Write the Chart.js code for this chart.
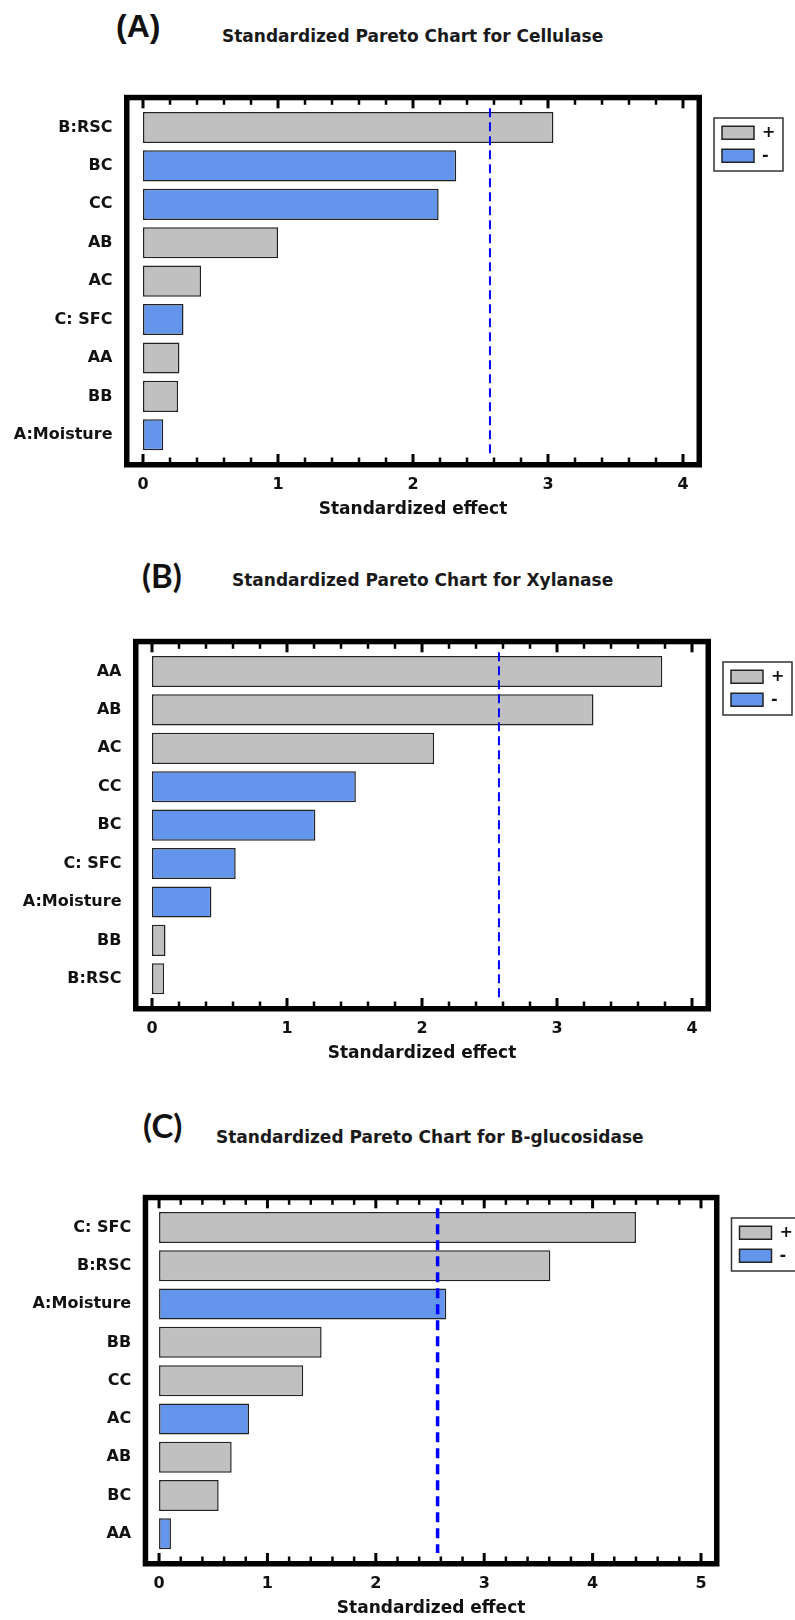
<!DOCTYPE html>
<html lang="en">
<head>
<meta charset="UTF-8">
<title>Standardized Pareto Charts</title>
<script src="https://cdn.jsdelivr.net/npm/chart.js"></script>
<style>
  body { margin: 0; width: 795px; height: 1620px; position: relative; background: #fff; overflow: hidden; }
  .tag { position: absolute; font-weight: bold; color: #111; line-height: 1; white-space: nowrap; }
  .tagA { font-family: "Liberation Sans", Arial, sans-serif; font-size: 32px; }
  .tagBC { font-family: Lato, "Liberation Sans", sans-serif; font-size: 33px; }
  .ttl { position: absolute; font-family: "DejaVu Sans", sans-serif; font-weight: bold; font-size: 17px;
         color: #1a1a1a; line-height: 20px; white-space: nowrap; }
  canvas { position: absolute; left: 0; }
</style>
</head>
<body>

<div class="tag tagA" style="left:116px; top:10px;">(A)</div>
<div class="ttl" style="left:222px; top:26px;">Standardized Pareto Chart for Cellulase</div>
<canvas id="chartA" width="795" height="440" style="top:80px;"></canvas>

<div class="tag tagBC" style="left:142px; top:559px;">(B)</div>
<div class="ttl" style="left:232px; top:570px;">Standardized Pareto Chart for Xylanase</div>
<canvas id="chartB" width="795" height="444" style="top:620px;"></canvas>

<div class="tag tagBC" style="left:143px; top:1109px;">(C)</div>
<div class="ttl" style="left:216px; top:1127px;">Standardized Pareto Chart for B-glucosidase</div>
<canvas id="chartC" width="795" height="449" style="top:1170px;"></canvas>

<script>
    // (A) Cellulase
    const labelsA = ['B:RSC', 'BC', 'CC', 'AB', 'AC', 'C: SFC', 'AA', 'BB', 'A:Moisture'];
    const effectsA = [3.04, 2.32, 2.19, 1.00, 0.43, 0.30, 0.27, 0.26, 0.15];
    const signsA = ['+', '-', '-', '+', '+', '-', '+', '+', '-'];
    const critA = 2.57;
    const rangeA = [-0.1, 4.1];

    // (B) Xylanase
    const labelsB = ['AA', 'AB', 'AC', 'CC', 'BC', 'C: SFC', 'A:Moisture', 'BB', 'B:RSC'];
    const effectsB = [3.78, 3.27, 2.09, 1.51, 1.21, 0.62, 0.44, 0.10, 0.09];
    const signsB = ['+', '+', '+', '-', '-', '-', '-', '+', '+'];
    const critB = 2.57;
    const rangeB = [-0.1, 4.1];

    // (C) B-glucosidase
    const labelsC = ['C: SFC', 'B:RSC', 'A:Moisture', 'BB', 'CC', 'AC', 'AB', 'BC', 'AA'];
    const effectsC = [4.40, 3.61, 2.65, 1.50, 1.33, 0.83, 0.67, 0.55, 0.11];
    const signsC = ['+', '+', '-', '+', '+', '-', '+', '+', '-'];
    const critC = 2.57;
    const rangeC = [-0.1, 5.12];

    const FONT = '"DejaVu Sans", sans-serif';
    const GRAY = '#c0c0c0';
    const BLUE = '#6495ed';
    const EDGE = '#222';

    // frame, inner ticks, critical line and legend border
    const framePlugin = {
        id: 'frame',
        afterLayout(chart) {
            const lg = chart.legend, ca = chart.chartArea;
            const w = lg.width, h = lg.height;
            lg.left = ca.right + 18.5;
            lg.right = lg.left + w;
            lg.top = ca.top + 9.5;
            lg.bottom = lg.top + h;
        },
        afterDraw(chart, args, opts) {
            const ctx = chart.ctx, ca = chart.chartArea;
            const x = chart.scales.x;
            const top = ca.top - 8, bottom = ca.bottom + 8;
            ctx.save();

            // critical t value
            ctx.strokeStyle = '#0000ff';
            ctx.lineWidth = opts.dashWidth;
            ctx.setLineDash(opts.dash);
            const cx = x.getPixelForValue(opts.crit);
            ctx.beginPath();
            ctx.moveTo(cx, ca.top);
            ctx.lineTo(cx, ca.bottom);
            ctx.stroke();
            ctx.setLineDash([]);

            // outer box
            ctx.strokeStyle = '#000';
            ctx.lineWidth = 5.5;
            ctx.strokeRect(ca.left - 2.75, top - 2.75, ca.width + 5.5, bottom - top + 5.5);

            // ticks pointing inwards, top and bottom
            ctx.fillStyle = '#000';
            for (let k = 0; k <= 25; k++) {
                const v = k / 5;
                if (v > x.max) break;
                const px = x.getPixelForValue(v);
                const major = k % 5 === 0;
                const len = major ? 8 : 4.5;
                const w = major ? 3 : 2.5;
                ctx.fillRect(px - w / 2, top - 1, w, len + 1);
                ctx.fillRect(px - w / 2, bottom - len, w, len + 1);
            }

            // legend border
            ctx.lineWidth = 1.5;
            ctx.strokeStyle = '#333';
            ctx.strokeRect(ca.right + 17.5, ca.top + 9.7, 69, 53);
            ctx.restore();
        }
    };

    function buildChart(id, labels, effects, signs, crit, range, extra) {
        const plus = effects.map((v, i) => signs[i] === '+' ? v : null);
        const minus = effects.map((v, i) => signs[i] === '-' ? v : null);
        const tickFont = { family: FONT, size: 16, weight: 'bold' };
        return new Chart(document.getElementById(id), {
            type: 'bar',
            data: {
                labels: labels,
                datasets: [
                    { label: '+', data: plus, backgroundColor: GRAY, borderColor: EDGE, borderWidth: 1.5, borderSkipped: false },
                    { label: '-', data: minus, backgroundColor: BLUE, borderColor: EDGE, borderWidth: 1.5, borderSkipped: false }
                ]
            },
            options: {
                indexAxis: 'y',
                responsive: false,
                animation: false,
                datasets: { bar: { grouped: false, barPercentage: 0.81, categoryPercentage: 1 } },
                layout: { padding: { top: extra.padTop, right: 735 - extra.right, left: 0, bottom: 0 } },
                scales: {
                    x: {
                        type: 'linear',
                        min: range[0],
                        max: range[1],
                        afterFit: s => { s.height = 66; },
                        grid: { display: false, drawTicks: false },
                        border: { display: false },
                        ticks: { stepSize: 1, includeBounds: false, padding: 21, color: '#111', font: tickFont },
                        title: { display: true, text: 'Standardized effect', color: '#111', padding: 0,
                                 font: { family: FONT, size: 17, weight: 'bold' } }
                    },
                    y: {
                        afterFit: s => { s.width = extra.left; },
                        grid: { display: false, drawTicks: false },
                        border: { display: false },
                        ticks: { padding: 17, color: '#111', font: tickFont }
                    }
                },
                plugins: {
                    legend: {
                        position: 'right',
                        align: 'start',
                        maxWidth: 60,
                        labels: { boxWidth: 32, boxHeight: 13, padding: 7, color: '#111', font: tickFont }
                    },
                    tooltip: { enabled: false },
                    frame: { crit: crit, dashWidth: extra.dashWidth, dash: extra.dash }
                }
            },
            plugins: [framePlugin]
        });
    }

    buildChart('chartA', labelsA, effectsA, signsA, critA, rangeA,
        { padTop: 28.3, left: 129.5, right: 696.5, dashWidth: 2, dash: [9, 5] });
    buildChart('chartB', labelsB, effectsB, signsB, critB, rangeB,
        { padTop: 32.3, left: 138.5, right: 705.5, dashWidth: 2, dash: [9, 5] });
    buildChart('chartC', labelsC, effectsC, signsC, critC, rangeC,
        { padTop: 38.3, left: 148.2, right: 714, dashWidth: 3.5, dash: [10, 6] });
</script>
</body>
</html>
